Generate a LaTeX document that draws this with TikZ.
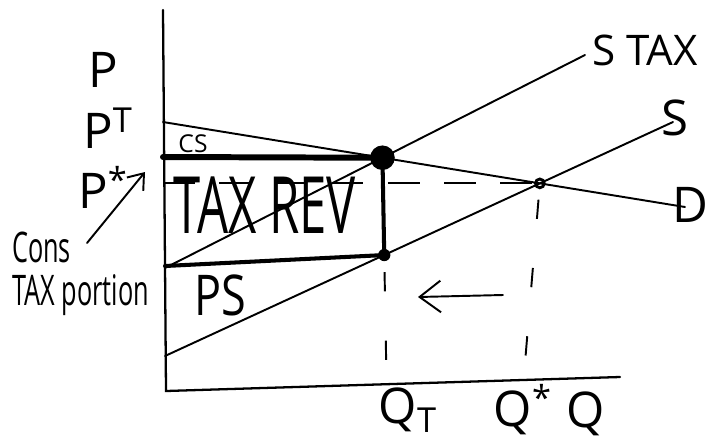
\documentclass[tikz,border=0pt]{standalone}
\usepackage{fontspec}
\setmainfont{Open Sans}
\usetikzlibrary{arrows.meta, calc}

\begin{document}
\begin{tikzpicture}[
  x=0.02cm, y=-0.02cm,
  axis/.style={line width=1.3pt, line cap=round},
  curve/.style={line width=1.1pt, line cap=round},
  price/.style={line width=3.4pt, line cap=round},
  wedge/.style={line width=2.3pt, line cap=round},
  guide/.style={line width=1.1pt, dash pattern=on 18pt off 14pt},
  drop/.style={line width=1.1pt, dash pattern=on 11pt off 28pt, dash phase=33pt},
  blob/.style={circle, fill=black, inner sep=0pt, minimum size=#1},
  ring/.style={circle, draw=black, line width=1.6pt, inner sep=0pt, minimum size=5pt},
  hand/.style={font=\fontsize{#1}{#1}\selectfont, inner sep=0pt},
  hand/.default=28pt,
  >={Straight Barb[length=12pt, width=18pt]},
]
\useasboundingbox (0,0) rectangle (708,441);

% ---------- Axes ----------
\coordinate (ytop) at (163,10);
\coordinate (O)    at (166,391);
\coordinate (xend) at (620,377);
\draw[axis] (ytop) -- (O) -- (xend);

% ---------- Demand, supply, supply + tax ----------
\coordinate (D0) at (163,122);
\coordinate (D1) at (685,207);
\coordinate (S0) at (165,356);
\coordinate (S1) at (673,122);
\coordinate (T0) at (165,268);
\coordinate (T1) at (585,55);
\draw[curve] (D0) -- (D1);
\draw[curve] (S0) -- (S1);
\draw[curve] (T0) -- (T1);

\coordinate (top) at (intersection of D0--D1 and T0--T1);
\coordinate (qt)  at ($(top |- xend)+(4,0)$);
\coordinate (bot) at (intersection of top--qt and S0--S1);
\coordinate (eq)  at (intersection of D0--D1 and S0--S1);
\coordinate (qs)  at ($(eq |- xend)+(-16,0)$);
\coordinate (pt)  at (163,157);
\coordinate (pp)  at (165,266);
\coordinate (pstar) at (eq -| ytop);

% ---------- Tax wedge ----------
\draw[price] (pt) -- (top);
\draw[wedge] (pp) -- (bot);
\draw[wedge] (top) -- (bot);
\node[blob=14pt] (topdot) at (top) {};
\node[blob=7pt]  (botdot) at (bot) {};
\node[ring]      (eqdot)  at (eq)  {};

% ---------- Guides ----------
\draw[guide] (pstar) -- (eqdot);
\draw[drop] (botdot) -- (qt);
\draw[drop] (eqdot) -- (qs);

% ---------- Arrows ----------
\coordinate (arrtail) at (503,295);
\coordinate (arrhead) at (418,297);
\draw[curve, ->] (arrtail) -- (arrhead);
\coordinate (consfrom) at (87,243);
\coordinate (consto)   at (145,172);
\draw[curve, ->, >={Straight Barb[length=8pt, width=12pt]}] (consfrom) -- (consto);

% ---------- Labels ----------
\node[hand] (plab)  at (103,70)  {P};
\node[hand] (ptlab) at (108,128) {P\textsuperscript{T}};
\node[hand] (pslab) at (103,187) {P\textsuperscript{*}};
\node[hand=24pt, align=left, anchor=north west, xscale=0.6, transform shape]
      (cons) at (12,232) {Cons\\TAX portion};
\node[hand=14pt] (cs) at (193,144) {CS};
\node[hand=45pt, xscale=0.62, transform shape] (taxrev) at (265,205) {TAX REV};
\node[hand=32pt, xscale=0.8, transform shape] (ps) at (220,295) {PS};
\node[hand=24pt] (staxlab) at (645,50)  {S TAX};
\node[hand]      (slab)    at (675,118) {S};
\node[hand]      (dlab)    at (690,205) {D};
\node[hand]      (qtlab)   at (408,410) {Q\textsubscript{T}};
\node[hand]      (qslab)   at (523,410) {Q\textsuperscript{*}};
\node[hand]      (qlab)    at (586,414) {Q};

\end{tikzpicture}
\end{document}
